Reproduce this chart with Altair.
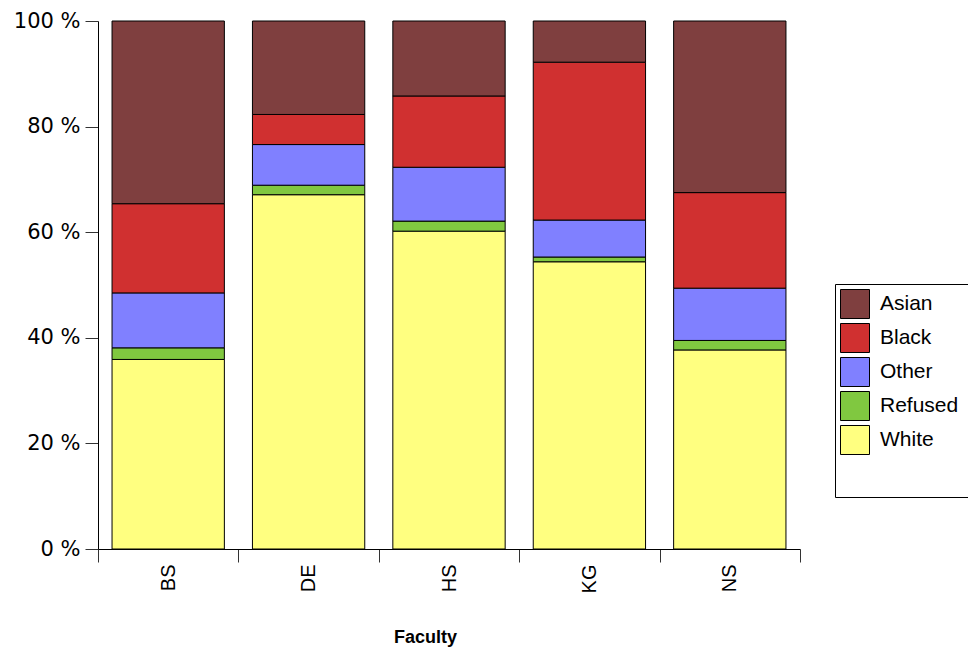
import altair as alt
import pandas as pd

faculties = ["BS", "DE", "HS", "KG", "NS"]
groups = ["Asian", "Black", "Other", "Refused", "White"]
colors = ["#7f3f3f", "#d03030", "#8080ff", "#80c840", "#ffff80"]
stack_rank = {"White": 0, "Refused": 1, "Other": 2, "Black": 3, "Asian": 4}

white = [35.9, 67.1, 60.2, 54.4, 37.7]
refused = [2.2, 1.8, 1.9, 0.9, 1.8]
other = [10.4, 7.7, 10.2, 7.0, 9.9]
black = [16.9, 5.7, 13.5, 29.9, 18.1]
asian = [34.6, 17.7, 14.2, 7.8, 32.5]

series = {"White": white, "Refused": refused, "Other": other, "Black": black, "Asian": asian}
rows = []
for g, vals in series.items():
    for f, v in zip(faculties, vals):
        rows.append({"Faculty": f, "Group": g, "Pct": v, "rank": stack_rank[g]})
df = pd.DataFrame(rows)

chart = alt.Chart(df).mark_bar(
    stroke="black", strokeWidth=1, width=alt.RelativeBandSize(0.8)
).encode(
    x=alt.X("Faculty:N", sort=faculties,
            scale=alt.Scale(paddingInner=0, paddingOuter=0),
            axis=alt.Axis(title="Faculty", labelAngle=-90, tickBand="extent",
                          labelFont="Liberation Sans", labelFontSize=20, labelColor="black",
                          labelPadding=2, tickSize=13, tickColor="#333333", domainColor="black",
                          titleFont="Liberation Sans", titleFontSize=18, titleFontWeight="bold",
                          titleColor="black", titlePadding=36, titleX=327, titleAlign="center")),
    y=alt.Y("Pct:Q", stack="zero", scale=alt.Scale(domain=[0, 100], nice=False),
            axis=alt.Axis(title=None, values=[0, 20, 40, 60, 80, 100],
                          labelExpr="datum.value + ' %'", grid=False,
                          labelFont="DejaVu Sans", labelFontSize=21, labelColor="black",
                          labelPadding=5, tickSize=13, tickColor="#333333", domainColor="black")),
    color=alt.Color("Group:N", scale=alt.Scale(domain=groups, range=colors),
                    legend=alt.Legend(orient="none", legendX=737, legendY=263,
                                      title="." * 18, titleOrient="bottom", titleColor="white",
                                      titleLimit=400, titleAnchor="start",
                                      titleFont="Liberation Sans", titleFontSize=25, titlePadding=10,
                                      symbolType="square", symbolSize=841,
                                      symbolStrokeColor="black", symbolStrokeWidth=1,
                                      symbolOpacity=1,
                                      labelFont="Liberation Sans", labelFontSize=21, labelColor="black",
                                      labelOffset=10, rowPadding=0,
                                      padding=5, strokeColor="black", fillColor="white")),
    order=alt.Order("rank:Q", sort="ascending"),
).properties(
    width=702, height=528,
    autosize=alt.AutoSizeParams(type="none"),
    padding={"left": 90, "top": 13, "right": 168, "bottom": 100},
).configure_view(stroke=None)

chart.save("out.html", embed_options={"renderer": "svg", "actions": False})
